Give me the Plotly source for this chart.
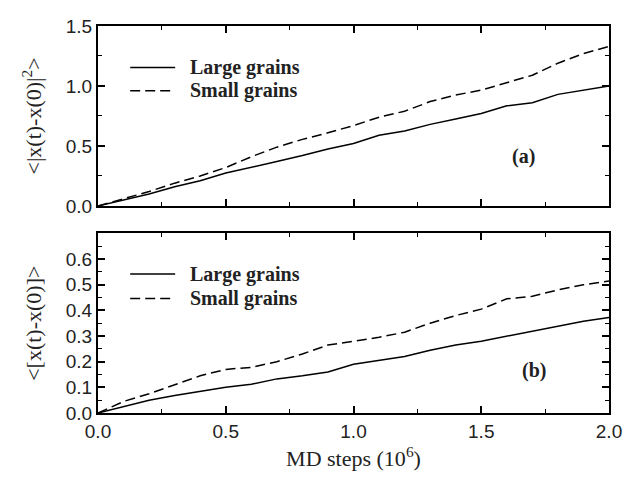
import plotly.graph_objects as go

# ---------------- data ----------------
steps = [0.0, 0.1, 0.2, 0.3, 0.4, 0.5, 0.6, 0.7, 0.8, 0.9, 1.0,
         1.1, 1.2, 1.3, 1.4, 1.5, 1.6, 1.7, 1.8, 1.9, 2.0]

msd_large = [0.0, 0.05, 0.10, 0.16, 0.21, 0.275, 0.32, 0.37, 0.42, 0.475, 0.52,
             0.59, 0.625, 0.68, 0.725, 0.77, 0.835, 0.86, 0.93, 0.965, 1.0]
msd_small = [0.0, 0.06, 0.12, 0.19, 0.25, 0.32, 0.41, 0.49, 0.555, 0.61, 0.67,
             0.74, 0.79, 0.87, 0.925, 0.965, 1.03, 1.09, 1.19, 1.27, 1.33]

disp_large = [0.0, 0.025, 0.05, 0.068, 0.083, 0.10, 0.112, 0.133, 0.145, 0.16, 0.19,
              0.205, 0.22, 0.245, 0.265, 0.28, 0.30, 0.318, 0.338, 0.358, 0.372]
disp_small = [0.0, 0.045, 0.075, 0.11, 0.145, 0.17, 0.178, 0.20, 0.23, 0.265, 0.28,
              0.295, 0.315, 0.35, 0.38, 0.405, 0.445, 0.455, 0.48, 0.50, 0.515]

series_names = ["Large grains", "Small grains"]
x_ticks = [0.0, 0.5, 1.0, 1.5, 2.0]
y1_ticks = [0.0, 0.5, 1.0, 1.5]
y2_ticks = [0.0, 0.1, 0.2, 0.3, 0.4, 0.5, 0.6]

# ---------------- figure ----------------
DASH = "10px,5px"
fig = go.Figure()
line_solid = dict(color="black", width=1.5)
line_dash = dict(color="black", width=1.5, dash=DASH)

fig.add_trace(go.Scatter(x=steps, y=msd_large, mode="lines", line=line_solid,
                         name=series_names[0], xaxis="x", yaxis="y"))
fig.add_trace(go.Scatter(x=steps, y=msd_small, mode="lines", line=line_dash,
                         name=series_names[1], xaxis="x", yaxis="y"))
fig.add_trace(go.Scatter(x=steps, y=disp_large, mode="lines", line=line_solid,
                         name=series_names[0], xaxis="x2", yaxis="y2"))
fig.add_trace(go.Scatter(x=steps, y=disp_small, mode="lines", line=line_dash,
                         name=series_names[1], xaxis="x2", yaxis="y2"))

tick_font = dict(family="Liberation Sans, Arial", size=19, color="#222")
title_font = dict(family="Liberation Serif, Times New Roman", size=22, color="#222")

common_axis = dict(
    showline=True, linewidth=2, linecolor="black", mirror="ticks",
    ticks="inside", ticklen=7, tickwidth=1.5, tickcolor="black",
    showgrid=False, zeroline=False, tickfont=tick_font,
    ticklabeloverflow="allow",
)
minor_ticks = dict(ticks="inside", ticklen=4, tickwidth=1.2, tickcolor="black")

fig.update_layout(
    width=634, height=471,
    margin=dict(l=90, r=33, t=8, b=66),
    paper_bgcolor="white", plot_bgcolor="white",
    showlegend=False,
    xaxis=dict(common_axis, domain=[0, 1], anchor="y", range=[0, 2],
               tickvals=x_ticks, showticklabels=False,
               minor=dict(minor_ticks, dtick=0.25)),
    yaxis=dict(common_axis, domain=[0.535, 1], anchor="x", range=[0, 1.5],
               tickvals=y1_ticks, tickformat=".1f",
               minor=dict(minor_ticks, dtick=0.25),
               title=dict(text="<|x(t)-x(0)|<sup>2</sup>>", font=title_font, standoff=18)),
    xaxis2=dict(common_axis, domain=[0, 1], anchor="y2", range=[0, 2],
                tickvals=x_ticks, tickformat=".1f",
                minor=dict(minor_ticks, dtick=0.25),
                title=dict(text="MD steps (10<sup>6</sup>)", font=title_font, standoff=10)),
    yaxis2=dict(common_axis, domain=[0, 0.464], anchor="x2", range=[0, 0.7],
                tickvals=y2_ticks, tickformat=".1f",
                minor=dict(minor_ticks, dtick=0.05),
                title=dict(text="<[x(t)-x(0)]>", font=title_font, standoff=18)),
)

# manual legends (one per panel)
legend_font = dict(family="Liberation Serif, Times New Roman", size=20, color="#222")
for xa, ya, rows in [("x", "y", [0.77, 0.64]), ("x2", "y2", [0.774, 0.638])]:
    for name, yy, dash in zip(series_names, rows, ["solid", DASH]):
        fig.add_shape(type="line", xref=f"{xa} domain", yref=f"{ya} domain",
                      x0=0.063, x1=0.151, y0=yy, y1=yy,
                      line=dict(color="black", width=1.5, dash=dash))
        fig.add_annotation(xref=f"{xa} domain", yref=f"{ya} domain",
                           x=0.176, y=yy, xanchor="left", yanchor="middle",
                           text=f"<b>{name}</b>", showarrow=False, font=legend_font)

fig.add_annotation(xref="x domain", yref="y domain", x=0.86, y=0.2,
                   text="<b>(a)</b>", showarrow=False, font=legend_font)
fig.add_annotation(xref="x2 domain", yref="y2 domain", x=0.88, y=0.16,
                   text="<b>(b)</b>", showarrow=False, font=legend_font)

fig.write_html("out.html")
